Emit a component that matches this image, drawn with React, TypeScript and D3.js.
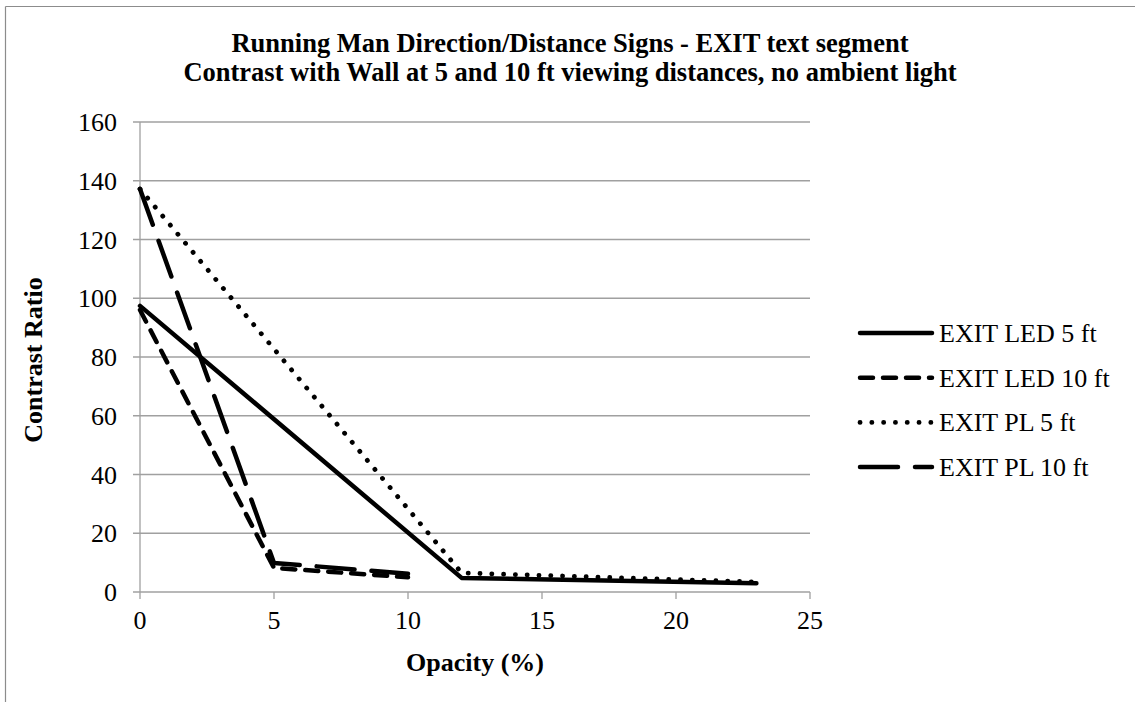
import React from "react";
import * as d3 from "d3";

const seriesNames = ["EXIT LED 5 ft", "EXIT LED 10 ft", "EXIT PL 5 ft", "EXIT PL 10 ft"];
const ledX = [0, 12, 23];
const led5 = [97.4, 4.8, 3.0];
const led10X = [0, 5, 10];
const led10 = [96, 8.2, 5.0];
const pl5X = [0, 12, 23];
const pl5 = [137.2, 6.5, 3.4];
const pl10X = [0, 5, 10];
const pl10 = [137.2, 9.9, 6.2];
const xTicks = [0, 5, 10, 15, 20, 25];
const yTicks = [0, 20, 40, 60, 80, 100, 120, 140, 160];
const titleLines = [
  "Running Man Direction/Distance Signs - EXIT text segment",
  "Contrast with Wall at 5 and 10 ft viewing distances, no ambient light",
];
const xTitle = "Opacity (%)";
const yTitle = "Contrast Ratio";

const styles = [
  { dash: "none", width: 4.5 },
  { dash: "13,10", width: 4.5 },
  { dash: "0.1,11.7", width: 4.8 },
  { dash: "38,17", width: 4.5 },
];

export default function App() {
  const W = 1135, H = 702;
  const left = 140, right = 810, top = 122, bottom = 592;
  const x = d3.scaleLinear().domain([0, 25]).range([left, right]);
  const y = d3.scaleLinear().domain([0, 160]).range([bottom, top]);
  const font = "'Liberation Serif', 'Times New Roman', 'DejaVu Serif', serif";

  const data = [
    ledX.map((v, i) => [v, led5[i]]),
    led10X.map((v, i) => [v, led10[i]]),
    pl5X.map((v, i) => [v, pl5[i]]),
    pl10X.map((v, i) => [v, pl10[i]]),
  ] as [number, number][][];
  const line = d3.line<[number, number]>().x(d => x(d[0])).y(d => y(d[1]));
  const gridColor = "#a0a0a0";
  const legendX0 = 860, legendX1 = 932, legendY0 = 333, legendStep = 44.7;

  return (
    <svg width={W} height={H} style={{ position: "absolute", left: 0, top: 0, background: "#fff" }} fontFamily={font}>
      <rect x={0} y={0} width={W} height={H} fill="#fff" />
      <line x1={5.5} y1={6.5} x2={W} y2={6.5} stroke="#8c8c8c" strokeWidth={1.2} />
      <line x1={5.5} y1={6.5} x2={5.5} y2={H} stroke="#8c8c8c" strokeWidth={1.2} />
      {titleLines.map((t, i) => (
        <text key={i} x={570} y={52 + i * 29} textAnchor="middle" fontWeight="bold" fontSize={26.5}>{t}</text>
      ))}
      {yTicks.map(t => (
        <g key={t}>
          <line x1={left - 7} x2={right} y1={y(t)} y2={y(t)} stroke={gridColor} strokeWidth={1.3} />
          <text x={117} y={y(t) + 9} textAnchor="end" fontSize={26}>{t}</text>
        </g>
      ))}
      <line x1={left} x2={left} y1={top} y2={bottom} stroke={gridColor} strokeWidth={1.3} />
      {xTicks.map(t => (
        <g key={t}>
          <line x1={x(t)} x2={x(t)} y1={bottom} y2={bottom + 7} stroke={gridColor} strokeWidth={1.3} />
          <text x={x(t)} y={629} textAnchor="middle" fontSize={26}>{t}</text>
        </g>
      ))}
      <text x={475} y={671} textAnchor="middle" fontWeight="bold" fontSize={26}>{xTitle}</text>
      <text transform={`translate(42,360) rotate(-90)`} textAnchor="middle" fontWeight="bold" fontSize={26}>{yTitle}</text>
      {data.map((d, i) => (
        <path key={i} d={line(d) || ""} fill="none" stroke="#000" strokeWidth={styles[i].width}
          strokeDasharray={styles[i].dash} strokeLinecap="round" strokeLinejoin="round" />
      ))}
      {seriesNames.map((n, i) => (
        <g key={n}>
          <line x1={legendX0} x2={legendX1} y1={legendY0 + i * legendStep} y2={legendY0 + i * legendStep}
            stroke="#000" strokeWidth={styles[i].width} strokeDasharray={styles[i].dash} strokeLinecap="round" />
          <text x={939} y={legendY0 + i * legendStep + 9} fontSize={26}>{n}</text>
        </g>
      ))}
    </svg>
  );
}
